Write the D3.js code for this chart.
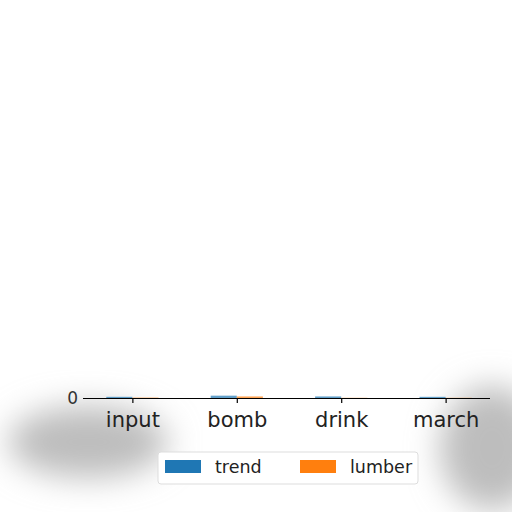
<!DOCTYPE html>
<html>
<head>
<meta charset="utf-8">
<script src="https://cdn.jsdelivr.net/npm/d3@7"></script>
<style>
  body { margin: 0; background: #fff; }
  svg { display: block; font-family: "DejaVu Sans", sans-serif; }
</style>
</head>
<body>
<div id="chart"></div>
<script>
const categories = ["input", "bomb", "drink", "march"]
const trend = [0.3, 0.6, 0.4, 0.3]
const lumber = [0.1, 0.4, 0.05, 0.05]
const seriesNames = ["trend", "lumber"]
const yTicks = [0]

const COLORS = ["#1f77b4", "#ff7f0e"]
const W = 512, H = 512
const PLOT = { LEFT: 88, RIGHT: 490, TOP: 10, BOTTOM: 398 }

const svg = d3.select("#chart").append("svg")
  .attr("width", W)
  .attr("height", H)

// blurred grey smudges seen in the reference
const defs = svg.append("defs")
defs.append("filter").attr("id", "blur")
  .attr("x", "-50%").attr("y", "-50%").attr("width", "200%").attr("height", "200%")
  .append("feGaussianBlur").attr("stdDeviation", 16)

svg.append("ellipse")
  .attr("cx", 88).attr("cy", 442).attr("rx", 80).attr("ry", 36)
  .attr("fill", "#bdbdbd").attr("filter", "url(#blur)")
svg.append("ellipse")
  .attr("cx", 492).attr("cy", 448).attr("rx", 52).attr("ry", 62)
  .attr("fill", "#bdbdbd").attr("filter", "url(#blur)")

// x is in "category units" like matplotlib: bars at i-0.125 and i+0.125
const x = d3.scaleLinear()
  .domain([-0.425, categories.length - 1 + 0.425])
  .range([PLOT.LEFT, PLOT.RIGHT])

const y = d3.scaleLinear()
  .domain([0, 100])
  .range([PLOT.BOTTOM, PLOT.TOP])

const barW = x(0.25) - x(0)
const series = [trend, lumber]

series.forEach((vals, s) => {
  svg.append("g").selectAll("rect")
    .data(vals)
    .enter().append("rect")
    .attr("x", (d, i) => x(i + (s === 0 ? -0.25 : 0)))
    .attr("y", d => y(d))
    .attr("width", barW)
    .attr("height", d => y(0) - y(d))
    .attr("fill", COLORS[s])
    .attr("opacity", 0.7)
})

// x axis
const xAxis = d3.axisBottom(x)
  .tickValues(d3.range(categories.length))
  .tickFormat(i => categories[i])
  .tickSize(5)
  .tickPadding(9)
const gx = svg.append("g")
  .attr("transform", `translate(0, ${PLOT.BOTTOM})`)
  .call(xAxis)
gx.select(".domain").attr("d", `M${PLOT.LEFT},0.5H${PLOT.RIGHT}`).attr("stroke", "#000").attr("stroke-width", 1.2)
gx.selectAll(".tick line").attr("stroke", "#000").attr("stroke-width", 1.2)
gx.selectAll(".tick text")
  .attr("font-family", "DejaVu Sans, sans-serif")
  .attr("font-size", "21px")
  .attr("fill", "#222")

// y axis (only the 0 tick shows)
const yAxis = d3.axisLeft(y)
  .tickValues(yTicks)
  .tickSize(5)
  .tickPadding(5)
const gy = svg.append("g")
  .attr("transform", `translate(${PLOT.LEFT}, 0)`)
  .call(yAxis)
gy.select(".domain").remove()
gy.selectAll(".tick line").attr("stroke", "#000")
gy.selectAll(".tick text")
  .attr("font-family", "DejaVu Sans, sans-serif")
  .attr("font-size", "17px")
  .attr("fill", "#333")

// legend
const legend = svg.append("g").attr("transform", "translate(158, 452)")
legend.append("rect")
  .attr("width", 260).attr("height", 32).attr("rx", 3)
  .attr("fill", "#fff").attr("stroke", "#ddd")
const items = legend.selectAll(".item")
  .data(seriesNames)
  .enter().append("g")
  .attr("transform", (d, i) => `translate(${7 + i * 135}, 0)`)
items.append("rect")
  .attr("y", 8).attr("width", 36).attr("height", 13)
  .attr("fill", (d, i) => COLORS[i])
items.append("text")
  .attr("x", 50).attr("y", 21)
  .attr("font-size", "17.5px")
  .attr("fill", "#222")
  .text(d => d)
</script>
</body>
</html>
